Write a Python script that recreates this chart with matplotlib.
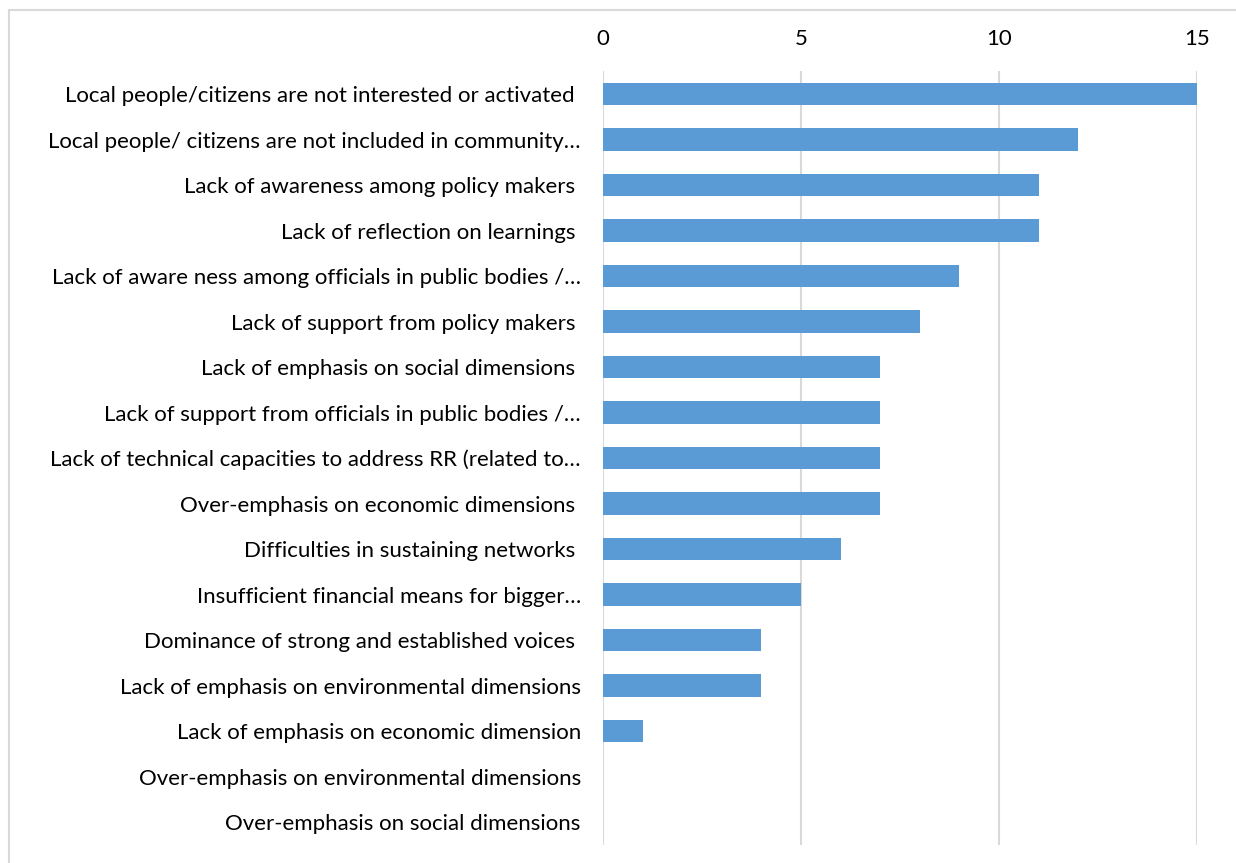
import matplotlib.pyplot as plt
from matplotlib.patches import Rectangle

# Datos del grafico (de arriba hacia abajo)
categorias = [
    "Local people/citizens are not interested or activated ",
    "Local people/ citizens are not included in community…",
    "Lack of awareness among policy makers ",
    "Lack of reflection on learnings ",
    "Lack of aware ness among officials in public bodies /…",
    "Lack of support from policy makers ",
    "Lack of emphasis on social dimensions ",
    "Lack of support from officials in public bodies /…",
    "Lack of technical capacities to address RR (related to…",
    "Over-emphasis on economic dimensions ",
    "Difficulties in sustaining networks ",
    "Insufficient financial means for bigger…",
    "Dominance of strong and established voices ",
    "Lack of emphasis on environmental dimensions",
    "Lack of emphasis on economic dimension",
    "Over-emphasis on environmental dimensions",
    "Over-emphasis on social dimensions",
]
valores = [15, 12, 11, 11, 9, 8, 7, 7, 7, 7, 6, 5, 4, 4, 1, 0, 0]
ticks_x = [0, 5, 10, 15]

plt.rcParams['font.family'] = ['Lato', 'DejaVu Sans']

fig = plt.figure(figsize=(12.36, 8.63), dpi=100)
ax = fig.add_axes([0.4879, 0.0211, 0.4805, 0.8963])

pos = list(range(len(categorias)))
ax.barh(pos, valores, height=0.49, color='#5B9BD5', zorder=3)

ax.set_ylim(len(categorias) - 0.5, -0.5)
ax.set_xlim(0, 15)
ax.set_yticks(pos)
ax.set_yticklabels(categorias, fontsize=16, color='#000000')
ax.set_xticks(ticks_x)
ax.xaxis.tick_top()
ax.tick_params(axis='x', length=0, pad=16, labelsize=16, labelcolor='#000000')
ax.tick_params(axis='y', length=0, pad=16)

ax.grid(axis='x', color='#D9D9D9', linewidth=1.5, zorder=0)
for s in ax.spines.values():
    s.set_visible(False)

# Borde del area del grafico
borde = Rectangle((9 / 1236, -0.05), 1.1, 1 - 10 / 863 + 0.05,
                  transform=fig.transFigure, fill=False,
                  edgecolor='#D9D9D9', linewidth=1.5, clip_on=False)
fig.patches.append(borde)

fig.savefig('out.png', dpi=100)
